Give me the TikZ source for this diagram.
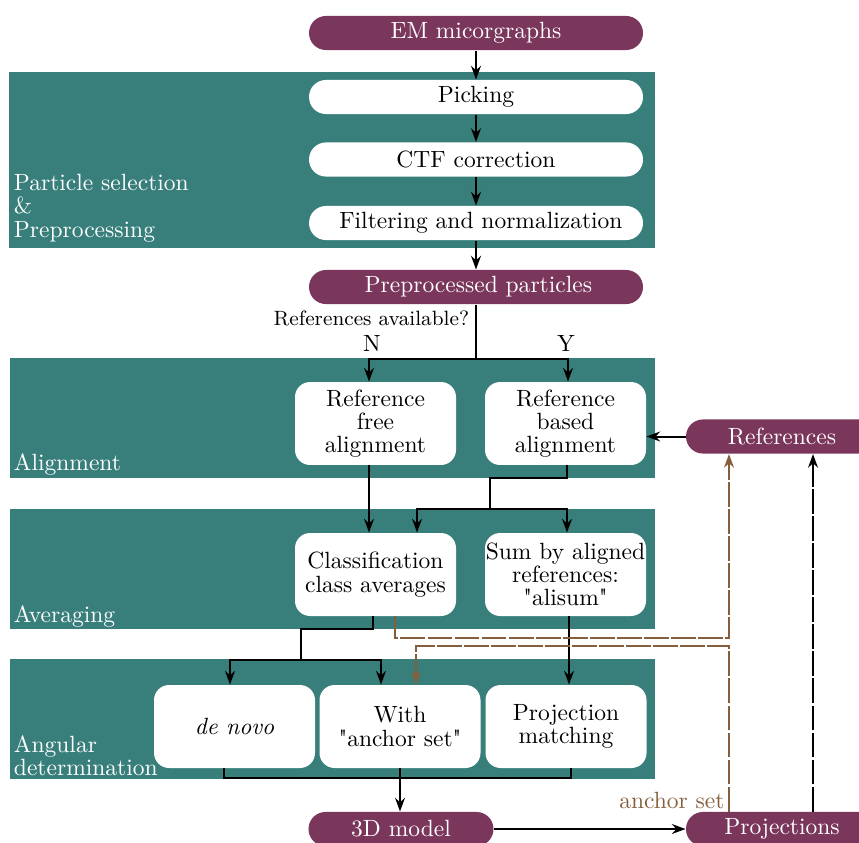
\documentclass[tikz,border=0pt]{standalone}
\usepackage{fontspec}
\usetikzlibrary{arrows.meta}
\definecolor{bandteal}{RGB}{56,127,123}
\definecolor{pillpurple}{RGB}{123,54,92}
\definecolor{dashbrown}{RGB}{133,95,60}
\begin{document}
\begin{tikzpicture}[x=0.4255pt,y=-0.4255pt,
  pill/.style={fill=pillpurple,text=white,rounded corners=7.2pt,minimum width=142.1pt,minimum height=14.5pt,inner sep=0pt,font=\fontsize{10}{12}\selectfont},
  wpill/.style={fill=white,rounded corners=7.2pt,minimum width=142.1pt,minimum height=14.5pt,inner sep=0pt,font=\fontsize{10}{12}\selectfont},
  box/.style={fill=white,rounded corners=6.4pt,minimum width=68.5pt,minimum height=35.3pt,inner sep=0pt,align=center,font=\fontsize{10}{9.9}\selectfont},
  bandlabel/.style={text=white,anchor=south west,inner sep=0pt,align=left,font=\fontsize{10}{9.9}\selectfont},
  band/.style={fill=bandteal},
  line/.style={line width=0.85pt},
  arr/.style={line width=0.85pt,-{Stealth[length=5.8pt,width=4.2pt]}},
  darr/.style={line width=0.85pt,dash pattern=on 10.6pt off 0.9pt,-{Stealth[length=5.8pt,width=4.2pt]}},
  brarr/.style={darr,draw=dashbrown,color=dashbrown}
]
\useasboundingbox (0,0) rectangle (859,842);
\clip (0,0) rectangle (859,842);

% bands
\fill[band] (9,72) rectangle (655,248);
\fill[band] (10,358) rectangle (655,478);
\fill[band] (10,509) rectangle (655,629);
\fill[band] (10,659) rectangle (655,779);

\node[bandlabel] (lb1) at (13.5,242.5) {Particle selection\\\&\\Preprocessing};
\node[bandlabel] (lb2) at (13.5,476) {Alignment};
\node[bandlabel] (lb3) at (13.5,627.3) {Averaging};
\node[bandlabel] (lb4) at (13.5,776.5) {Angular\\determination};

% nodes
\node[pill]  (em)   at (476,33)    {EM micorgraphs};
\node[wpill] (pick) at (476,97)    {Picking};
\node[wpill] (ctf)  at (476,159.5) {CTF correction};
\node[wpill] (filt) at (476,223)   {\hspace*{4.2pt}Filtering and normalization};
\node[pill]  (pre)  at (476,287)   {\hspace*{2pt}Preprocessed particles};

\node[box] (rfa) at (375.5,423.5) {Reference\\free\\alignment};
\node[box] (rba) at (565.5,423.5) {Reference\\based\\alignment};
\node[pill,minimum width=81.7pt] (refs) at (782,436.5) {References};

\node[box] (cls) at (375.5,574.5) {Classification\\class averages};
\node[box] (sum) at (565.5,574.5) {Sum by aligned\\references:\\\textquotedbl alisum\textquotedbl};

\node[box] (dn) at (234.5,726.5) {\textit{de novo}};
\node[box] (wa) at (400,726.5) {With\\\textquotedbl anchor set\textquotedbl};
\node[box] (pm) at (566,726.5) {Projection\\matching};

\node[pill,minimum width=78.7pt] (m3d) at (401,829) {3D model};
\node[pill,minimum width=81.7pt] (proj) at (782,829) {Projections};

% labels
\node[anchor=base east,inner sep=0pt,font=\fontsize{8.8}{10}\selectfont] (qa) at (469.5,325) {References available?};
\node[anchor=base,inner sep=0pt] (lN) at (372,351.5) {N};
\node[anchor=base,inner sep=0pt] (lY) at (566,351.5) {Y};
\node[anchor=base east,inner sep=0pt,text=dashbrown] (las) at (725,808) {anchor set};

% connectors
\draw[arr] (em.south) -- (pick.north);
\draw[arr] (pick.south) -- (ctf.north);
\draw[arr] (ctf.south) -- (filt.north);
\draw[arr] (filt.south) -- (pre.north);

\draw[line] (pre.south) -- (pre.south |- 0,359) coordinate (b1);
\draw[arr] (b1) -| (rfa.north -| 369,0);
\draw[arr] (b1) -| (rba.north -| 568,0);

\draw[arr] (refs.west) -- (refs.west -| rba.east);

\draw[arr] (rfa.south -| 369,0) -- (cls.north -| 369,0);
\draw[line] (rba.south -| 567,0) -- (567,478) -- (490,478) -- (490,509) coordinate (b2);
\draw[arr] (b2) -| (cls.north -| 417,0);
\draw[arr] (b2) -| (sum.north -| 567,0);

\draw[line] (cls.south -| 373,0) -- (373,629) -- (301,629) -- (301,660) coordinate (b3);
\draw[arr] (b3) -| (dn.north -| 230,0);
\draw[arr] (b3) -| (wa.north -| 381,0);

\draw[arr] (sum.south -| 569,0) -- (pm.north -| 569,0);

\draw[line] (dn.south -| 224,0) -- (224,778) -- (571,778) -- (pm.south -| 571,0);
\draw[arr] (wa.south) -- (m3d.north -| wa.south);

\draw[arr] (m3d.east) -- (proj.west);

\draw[brarr] (cls.south -| 395,0) -- (395,638) -- (729,638) -- (refs.south -| 729,0);
\draw[brarr] (proj.north -| 729,0) -- (729,646) -- (416,646) -- (wa.north -| 416,0);
\draw[darr] (proj.north -| 813,0) -- (refs.south -| 813,0);
\end{tikzpicture}
\end{document}
